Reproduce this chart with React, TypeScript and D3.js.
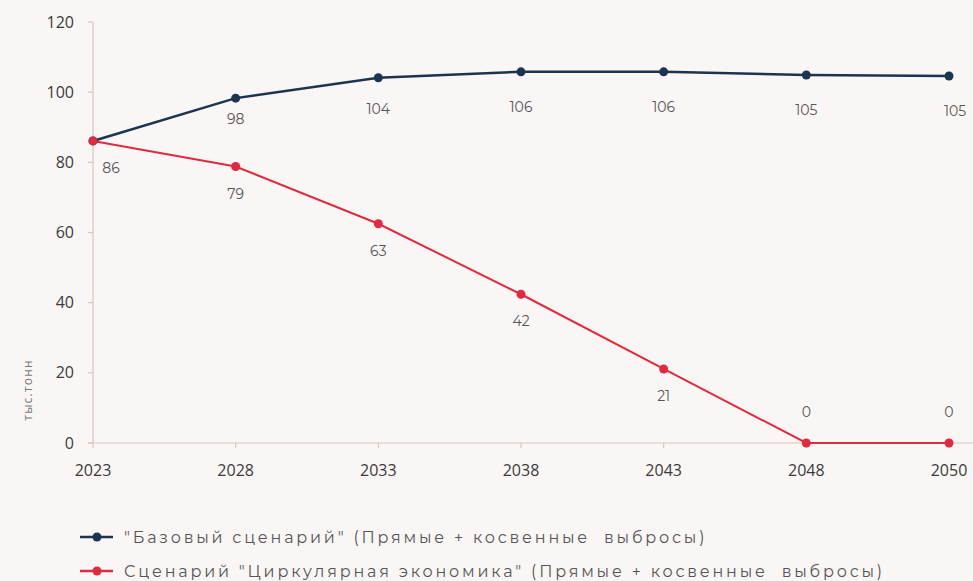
import React from "react";
import * as d3 from "d3";

const years = ["2023", "2028", "2033", "2038", "2043", "2048", "2050"];
const baseValues = [86.1, 98.3, 104.1, 105.8, 105.8, 104.9, 104.6];
const baseLabels = ["86", "98", "104", "106", "106", "105", "105"];
const circValues = [86.1, 78.8, 62.5, 42.4, 21.1, 0, 0];
const circLabels = ["86", "79", "63", "42", "21", "0", "0"];
const yTicks = [0, 20, 40, 60, 80, 100, 120];
const legendNames = [
  "\"Базовый сценарий\" (Прямые + косвенные  выбросы)",
  "Сценарий \"Циркулярная экономика\" (Прямые + косвенные  выбросы)",
];

const W = 973;
const H = 581;
const BLUE = "#1b3550";
const RED = "#e02a3f";
const AXIS = "#dcc3bc";
// vertical offsets of value labels (layout only)
const baseLabelDy = [0, 26, 36, 40, 40, 40, 40];

export default function App() {
  const x = d3.scalePoint<string>().domain(years).range([93, 949]);
  const y = d3.scaleLinear().domain([0, 120]).range([443, 22]);
  const line = d3
    .line<number>()
    .x((_, i) => x(years[i]) as number)
    .y((d) => y(d));

  const labelFont = "Montserrat, 'Open Sans', Lato, sans-serif";

  return (
    <svg
      width={W}
      height={H}
      style={{ position: "absolute", left: 0, top: 0, background: "#faf6f5" }}
      fontFamily="'Open Sans', sans-serif"
    >
      <rect width={W} height={H} fill="#faf6f5" />
      <line x1={93} x2={93} y1={22} y2={443} stroke={AXIS} strokeWidth={1.2} />
      <line x1={88} x2={973} y1={443} y2={443} stroke={AXIS} strokeWidth={1.2} />
      {yTicks.map((t) => (
        <g key={t}>
          <line x1={88} x2={93} y1={y(t)} y2={y(t)} stroke={AXIS} strokeWidth={1.2} />
          <text x={74} y={y(t)} dy="0.35em" textAnchor="end" fontSize={16} fill="#3a3a3a">
            {t}
          </text>
        </g>
      ))}
      {years.map((yr) => (
        <g key={yr}>
          <line x1={x(yr)} x2={x(yr)} y1={443} y2={448} stroke={AXIS} strokeWidth={1.2} />
          <text x={x(yr)} y={470} dy="0.35em" textAnchor="middle" fontSize={16} fill="#3a3a3a">
            {yr}
          </text>
        </g>
      ))}
      <text
        transform="translate(32,390) rotate(-90)"
        textAnchor="middle"
        fontSize={12}
        fill="#777"
        letterSpacing={1.2}
      >
        тыс.тонн
      </text>

      <path d={line(circValues) || ""} fill="none" stroke={RED} strokeWidth={2} />
      <path d={line(baseValues) || ""} fill="none" stroke={BLUE} strokeWidth={2.5} />
      {baseValues.map((v, i) => (
        <circle key={"b" + i} cx={x(years[i])} cy={y(v)} r={4.5} fill={BLUE} />
      ))}
      {circValues.map((v, i) => (
        <circle key={"c" + i} cx={x(years[i])} cy={y(v)} r={4.5} fill={RED} />
      ))}

      {baseValues.map((v, i) =>
        i === 0 ? null : (
          <text
            key={"bl" + i}
            x={(x(years[i]) as number) + (i === 6 ? 6 : 0)}
            y={y(v) + baseLabelDy[i]}
            textAnchor="middle"
            fontSize={14}
            fill="#555"
            fontFamily={labelFont}
          >
            {baseLabels[i]}
          </text>
        )
      )}
      {circValues.map((v, i) => (
        <text
          key={"cl" + i}
          x={(x(years[i]) as number) + (i === 0 ? 18 : 0)}
          y={v === 0 ? y(v) - 26 : y(v) + 32}
          textAnchor="middle"
          fontSize={14}
          fill="#555"
          fontFamily={labelFont}
        >
          {circLabels[i]}
        </text>
      ))}

      {legendNames.map((name, i) => {
        const cy = 537 + i * 34;
        const c = i === 0 ? BLUE : RED;
        return (
          <g key={name}>
            <line x1={80} x2={113} y1={cy} y2={cy} stroke={c} strokeWidth={2.5} />
            <circle cx={97} cy={cy} r={4.5} fill={c} />
            <text
              x={124}
              y={cy}
              dy="0.35em"
              fontSize={16}
              fill="#555"
              letterSpacing={2.8}
              fontFamily={labelFont}
              style={{ whiteSpace: "pre" }}
            >
              {name}
            </text>
          </g>
        );
      })}
    </svg>
  );
}
